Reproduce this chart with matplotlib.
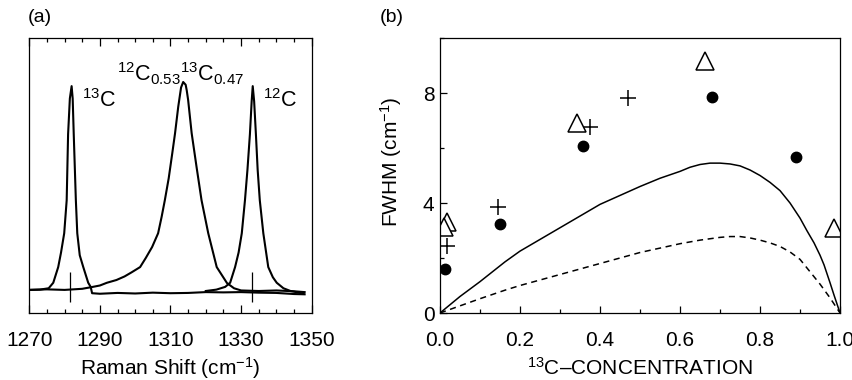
import matplotlib
matplotlib.use("Agg")
import matplotlib.pyplot as plt
from matplotlib.ticker import MultipleLocator, FixedLocator

plt.rcParams['font.family'] = ['Liberation Sans', 'DejaVu Sans']
plt.rcParams['mathtext.fontset'] = 'custom'
plt.rcParams['mathtext.rm'] = 'Liberation Sans'
plt.rcParams['mathtext.it'] = 'Liberation Sans:italic'
plt.rcParams['mathtext.bf'] = 'Liberation Sans:bold'

# ---------------- Panel (a) data: Raman spectra (arb. intensity 0-100) ----------------
c13_x = [1270, 1273, 1275.5, 1276.8, 1278.2, 1279.0, 1279.9, 1280.6, 1281.0, 1281.5, 1282.0,
         1282.3, 1282.6, 1283.2, 1283.6, 1284.3, 1285.3, 1286.7, 1287.4, 1287.8, 1290, 1295,
         1300, 1305, 1310, 1315, 1320, 1325, 1330, 1335, 1340, 1345, 1348]
c13_y = [8.4, 8.5, 9.0, 11.0, 16.7, 22.0, 29.0, 41.0, 65.0, 78.0, 82.5,
         78.0, 65.0, 41.0, 29.0, 21.0, 16.7, 11.0, 9.5, 7.2, 7.0, 7.3,
         7.1, 7.4, 7.2, 7.3, 7.6, 7.5, 7.6, 7.4, 7.3, 6.9, 6.8]

mix_x = [1270, 1275, 1280, 1285, 1288, 1290, 1292, 1294.7, 1297, 1299, 1301.4, 1303, 1304.8,
         1306.5, 1307.5, 1308.4, 1309.5, 1310.5, 1311.3, 1312.2, 1313.0, 1313.6, 1314.3, 1314.6,
         1315.0, 1316.0, 1317.4, 1318.8, 1320.7, 1323.1, 1326.0, 1328, 1330, 1335, 1340, 1345, 1348]
mix_y = [8.4, 8.6, 8.4, 8.8, 9.5, 10.0, 11.0, 12.0, 13.3, 14.8, 16.7, 20.0, 24.0,
         29.0, 35.0, 41.0, 49.0, 58.0, 65.4, 75.0, 82.0, 84.0, 83.0, 81.0,
         77.5, 65.4, 53.0, 41.0, 29.0, 16.7, 10.9, 9.0, 8.2, 8.0, 8.2, 7.9, 7.6]

c12_x = [1320, 1323, 1325.5, 1326.9, 1328.3, 1329.3, 1330.2, 1331.1, 1331.8, 1332.5, 1333.0,
         1333.3, 1333.7, 1334.2, 1334.7, 1335.3, 1336.3, 1337.7, 1339.0, 1340.1, 1342, 1344,
         1346, 1347.7]
c12_y = [8.0, 8.5, 9.5, 11.0, 16.7, 22.0, 29.0, 41.0, 52.0, 65.0, 77.0,
         82.5, 77.0, 65.0, 52.0, 41.0, 29.0, 16.7, 13.0, 11.0, 9.0, 8.0,
         7.5, 7.0]

peak_marks_x = [1281.5, 1333.0]
peak_marks_lo = [4.0, 4.0]
peak_marks_hi = [14.9, 14.9]

raman_ticks = [1270, 1290, 1310, 1330, 1350]

# ---------------- Panel (b) data: FWHM vs 13C concentration ----------------
circ_x = [0.013, 0.15, 0.358, 0.68, 0.889]
circ_y = [1.6, 3.24, 6.07, 7.87, 5.69]
plus_x = [0.018, 0.144, 0.374, 0.469]
plus_y = [2.45, 3.87, 6.77, 7.82]
tri_x = [0.017, 0.011, 0.342, 0.6625, 0.986]
tri_y = [3.3, 3.13, 6.91, 9.15, 3.08]

solid_x = [0.0, 0.05, 0.1, 0.1625, 0.2, 0.3, 0.4, 0.5, 0.55, 0.6, 0.625, 0.65, 0.675, 0.7,
           0.725, 0.75, 0.775, 0.8, 0.825, 0.85, 0.875, 0.9, 0.917, 0.935, 0.95, 0.96,
           0.975, 0.985, 1.0]
solid_y = [0.0, 0.6, 1.14, 1.86, 2.25, 3.1, 3.95, 4.6, 4.9, 5.15, 5.3, 5.4, 5.45, 5.45,
           5.42, 5.35, 5.2, 5.0, 4.75, 4.45, 4.0, 3.45, 3.0, 2.55, 2.1, 1.75,
           1.1, 0.65, 0.0]
dash_x = [0.0, 0.1, 0.1625, 0.2, 0.3, 0.4, 0.5, 0.6, 0.65, 0.7, 0.725, 0.75, 0.775, 0.8,
          0.825, 0.85, 0.875, 0.9, 0.925, 0.95, 0.975, 1.0]
dash_y = [0.0, 0.52, 0.83, 1.0, 1.4, 1.8, 2.2, 2.52, 2.65, 2.75, 2.78, 2.78, 2.73, 2.65,
          2.55, 2.42, 2.22, 1.95, 1.5, 1.05, 0.55, 0.0]

fig = plt.figure(figsize=(8.53, 3.8), dpi=100)

# ---- Panel (a)
axa = fig.add_axes([0.0343, 0.1763, 0.3311, 0.7237])
for xs, ys in [(c13_x, c13_y), (mix_x, mix_y), (c12_x, c12_y)]:
    axa.plot(xs, ys, color='black', lw=1.5)
axa.vlines(peak_marks_x, peak_marks_lo, peak_marks_hi, color='black', lw=0.9)
axa.set_xlim(1270, 1350)
axa.set_ylim(0, 100)
axa.set_yticks([])
axa.xaxis.set_major_locator(FixedLocator(raman_ticks))
axa.xaxis.set_minor_locator(MultipleLocator(5))
axa.tick_params(axis='x', which='both', direction='in', top=True, bottom=True,
                labelsize=15, pad=13)
axa.tick_params(axis='x', which='major', length=5.5, width=0.9)
axa.tick_params(axis='x', which='minor', length=3, width=0.9)
for s in axa.spines.values():
    s.set_linewidth(0.9)
axa.set_xlabel('Raman Shift (cm$^{-1}$)', fontsize=15, labelpad=3.5)
axa.text(1284.9, 75, r'$^{13}$C', fontsize=15.5, va='baseline', ha='left')
axa.text(1294.9, 84.1, r'$^{12}$C$_{0.53}$$^{13}$C$_{0.47}$', fontsize=15.5, va='baseline', ha='left')
axa.text(1336.2, 75, r'$^{12}$C', fontsize=15.5, va='baseline', ha='left')

# ---- Panel (b)
axb = fig.add_axes([0.5158, 0.1763, 0.469, 0.7237])
axb.plot(solid_x, solid_y, color='black', lw=1.1)
axb.plot(dash_x, dash_y, color='black', lw=1.1, dashes=(4, 3))
axb.plot(circ_x, circ_y, 'o', color='black', ms=7.5, ls='none')
axb.plot(plus_x, plus_y, '+', color='black', ms=12, mew=1.1, ls='none')
axb.plot(tri_x, tri_y, '^', mfc='white', mec='black', ms=13, mew=1.1, ls='none')
axb.set_xlim(0, 1.0)
axb.set_ylim(0, 10)
axb.xaxis.set_major_locator(MultipleLocator(0.2))
axb.xaxis.set_minor_locator(MultipleLocator(0.1))
axb.yaxis.set_major_locator(MultipleLocator(4))
axb.yaxis.set_minor_locator(MultipleLocator(2))
axb.xaxis.set_major_formatter(plt.FuncFormatter(lambda v, p: f'{v:.1f}'))
axb.tick_params(axis='both', which='both', direction='in', labelsize=15)
axb.tick_params(axis='x', which='both', pad=13)
axb.tick_params(axis='y', which='both', pad=4)
axb.tick_params(which='major', length=5, width=0.9)
axb.tick_params(which='minor', length=3, width=0.9)
for s in axb.spines.values():
    s.set_linewidth(0.9)
axb.set_xlabel(r'$^{13}$C–CONCENTRATION', fontsize=15, labelpad=5)
axb.set_ylabel('FWHM (cm$^{-1}$)', fontsize=15)
axb.yaxis.set_label_coords(-0.09, 0.55)

fig.text(28 / 853, 1 - 18 / 380, '(a)', fontsize=14, va='center', ha='left')
fig.text(380 / 853, 1 - 18 / 380, '(b)', fontsize=14, va='center', ha='left')

fig.savefig('out.png', dpi=100)
